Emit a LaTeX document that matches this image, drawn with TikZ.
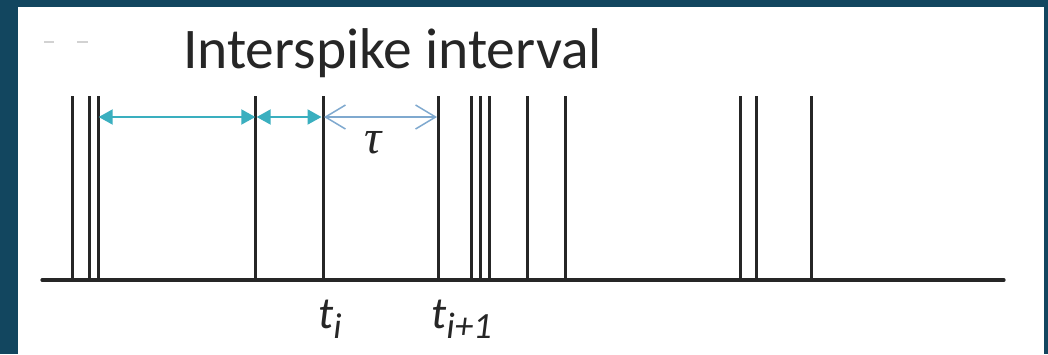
\documentclass[tikz,border=0pt]{standalone}
\usepackage{fontspec}
\setmainfont{Carlito}
\newfontfamily\taufont{Liberation Serif}
\usetikzlibrary{arrows.meta}
\definecolor{frame}{HTML}{12465F}
\definecolor{isi}{HTML}{3AAFBF}
\definecolor{taucol}{HTML}{7FA9CF}
\tikzset{
  spike/.style={line width=3pt, draw=black!85},
  axis/.style={line width=3.2pt, draw=black!85, line cap=round},
  isiarrow/.style={line width=2pt, draw=isi, {Triangle[length=14pt,width=15pt]}-{Triangle[length=14pt,width=15pt]}},
  tauarrow/.style={line width=1.5pt, draw=taucol, {Straight Barb[length=20pt,width=24pt]}-{Straight Barb[length=20pt,width=24pt]}},
}
\begin{document}
\begin{tikzpicture}[x=1pt,y=-1pt]
\useasboundingbox (0,0) rectangle (1048,354);
\fill[frame] (0,0) rectangle (1048,354);
\fill[white] (18,7) rectangle (1044,354);
% faint dashes
\draw[gray!35, line width=1.5pt] (44,42) -- (54,42) (77,42) -- (88,42);
% title
\node[anchor=base west, inner sep=0pt, font=\fontsize{57.5}{60}\selectfont, text=black!85] (title) at (183,68) {Interspike interval};
% axis
\coordinate (a0) at (42,280);
\coordinate (a1) at (1004,280);
\draw[axis] (a0) -- (a1);
% spikes
\foreach \n/\x in {1/72.7,2/89.3,3/98.7,4/255.3,5/323.3,6/438,7/471.7,8/480,9/489,10/527.3,11/565.7,12/740,13/756.3,14/811.3}{
  \coordinate (b\n) at (\x,280);
  \coordinate (s\n) at (\x,96);
  \draw[spike] (b\n) -- (s\n);
}
% arrow anchor coordinates
\coordinate (p3) at (98.7,117);
\coordinate (p4l) at (255.3,117);
\coordinate (p4r) at (256.7,117);
\coordinate (p5) at (321.5,117);
\coordinate (q5) at (324,117);
\coordinate (q6) at (437,117);
\draw[isiarrow] (p3) -- (p4l);
\draw[isiarrow] (p4r) -- (p5);
\draw[tauarrow] (q5) -- (q6);
\node[inner sep=0pt, font=\taufont\itshape\fontsize{48}{50}\selectfont, text=black!85] (tau) at (373,143) {τ};
% labels
\node[anchor=base west, inner sep=0pt, text=black!85] (ti) at (318,328)
  {\fontsize{45}{48}\selectfont\itshape t\raisebox{-10pt}{\fontsize{36}{38}\selectfont i}};
\node[anchor=base west, inner sep=0pt, text=black!85] (ti1) at (431,328)
  {\fontsize{45}{48}\selectfont\itshape t\raisebox{-10pt}{\fontsize{37}{38}\selectfont i+1}};
\end{tikzpicture}
\end{document}
